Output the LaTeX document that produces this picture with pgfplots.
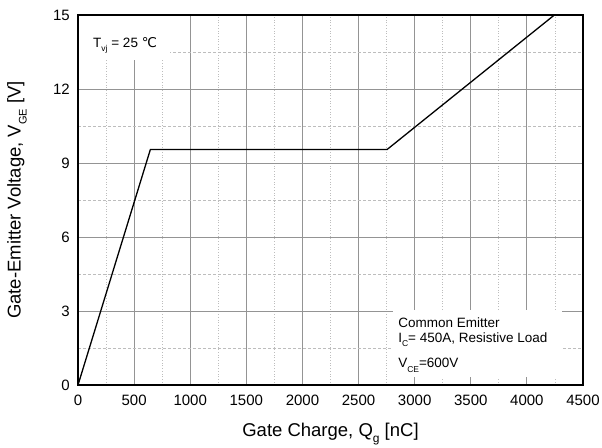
\documentclass[border=0pt]{standalone}
\usepackage{fontspec}
\setmainfont{Liberation Sans}
\newfontfamily\dejavu{DejaVu Sans}
\usepackage{pgfplots}
\pgfplotsset{compat=1.18}

\definecolor{majorgrid}{gray}{0.58}
\definecolor{minorgrid}{gray}{0.74}

% lowered subscript
\newcommand{\lsub}[2][8.5]{\raisebox{-0.32em}{\fontsize{#1}{#1}\selectfont #2}}

\begin{document}
\begin{tikzpicture}
\begin{axis}[
  at={(0,0)}, anchor=south west,
  scale only axis, width=505pt, height=370pt,
  xmin=0, xmax=4500, ymin=0, ymax=15,
  xtick={0,500,...,4500}, ytick={0,3,...,15},
  minor x tick num=1, minor y tick num=1,
  grid=both,
  major grid style={majorgrid, line width=0.9pt},
  minor x grid style={minorgrid, line width=0.7pt, dotted},
  minor y grid style={minorgrid, line width=0.7pt, dash pattern=on 3pt off 2pt},
  major tick length=0pt, minor tick length=0pt,
  axis line style={line width=1.3pt},
  scaled x ticks=false,
  /pgf/number format/1000 sep={},
  /pgf/number format/assume math mode=true,
  tick label style={font=\fontsize{15}{18}\selectfont},
  xticklabel style={inner sep=0pt, anchor=north, yshift=-10pt},
  yticklabel style={inner sep=0pt, anchor=east, xshift=-8pt},
  xlabel={Gate Charge, Q\lsub[12]{g} [nC]},
  ylabel={Gate-Emitter Voltage, V\lsub[11]{GE} [V]},
  label style={font=\fontsize{18.5}{22}\selectfont, inner sep=0pt},
  xlabel style={at={(axis description cs:0.5,0)}, anchor=north, yshift=-38pt},
  ylabel style={at={(axis description cs:-0.1208,0.5)}, anchor=center},
  clip=false,
]
% white panels behind the annotations
\fill[white] (axis cs:0,13.17) rectangle (axis cs:820,15);
\fill[white] (axis cs:2807,0.32) rectangle (axis cs:4313,3.04);

\addplot[black, line width=1.3pt] coordinates {(0,0) (645,9.55) (2755,9.55) (4245,15)};

\node[anchor=base west, inner sep=0pt, font=\fontsize{13.5}{16}\selectfont]
  at (axis cs:134,13.70) {T\lsub{vj} = 25 {\dejavu ℃}};
\node[anchor=base west, inner sep=0pt, font=\fontsize{13.5}{16}\selectfont]
  at (axis cs:2852,2.35) {Common Emitter};
\node[anchor=base west, inner sep=0pt, font=\fontsize{13.5}{16}\selectfont]
  at (axis cs:2852,1.74) {I\lsub{C}= 450A, Resistive Load};
\node[anchor=base west, inner sep=0pt, font=\fontsize{13.5}{16}\selectfont]
  at (axis cs:2852,0.69) {V\lsub{CE}=600V};

% frame drawn last so the panels do not cover it
\draw[line width=1.3pt] (rel axis cs:0,0) rectangle (rel axis cs:1,1);
\end{axis}
\pgfresetboundingbox
\path[use as bounding box] (-78pt,-62pt) rectangle (524pt,385pt);
\end{tikzpicture}
\end{document}
